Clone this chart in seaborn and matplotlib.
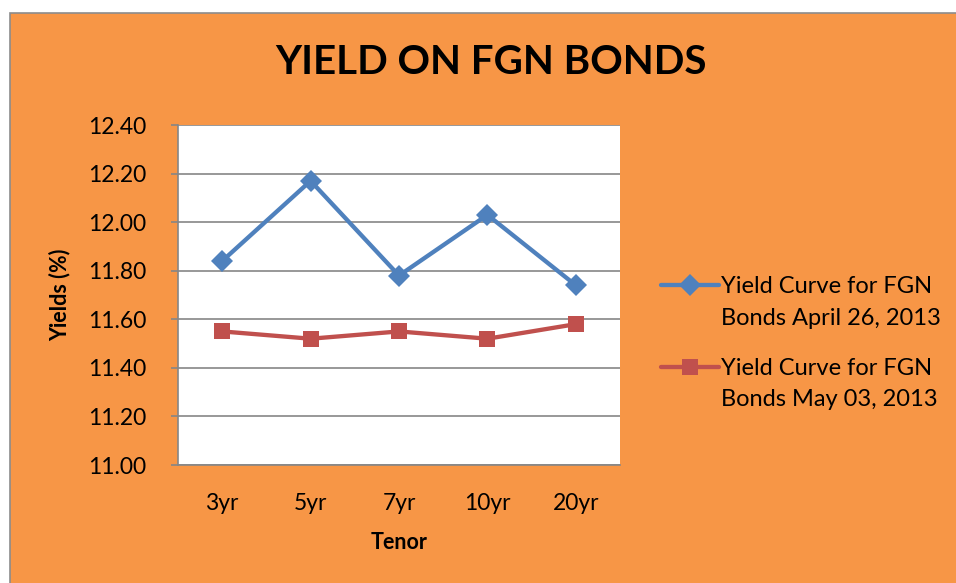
import matplotlib
matplotlib.use("Agg")
import matplotlib.pyplot as plt
import seaborn as sns
import pandas as pd
from matplotlib.patches import Rectangle
from matplotlib.lines import Line2D
from matplotlib.legend_handler import HandlerLine2D

# chart data
tenors = ["3yr", "5yr", "7yr", "10yr", "20yr"]
yield_apr26 = [11.84, 12.17, 11.78, 12.03, 11.74]
yield_may03 = [11.55, 11.52, 11.55, 11.52, 11.58]
series_names = ["Yield Curve for FGN\nBonds April 26, 2013",
                "Yield Curve for FGN\nBonds May 03, 2013"]
y_ticks = [11.00, 11.20, 11.40, 11.60, 11.80, 12.00, 12.20, 12.40]

df = pd.DataFrame({
    "Tenor": tenors * 2,
    "Yield": yield_apr26 + yield_may03,
    "Series": [series_names[0]] * len(tenors) + [series_names[1]] * len(tenors),
})

sns.set_style("white")
plt.rcParams["font.family"] = ["Lato", "DejaVu Sans"]
plt.rcParams["text.color"] = "black"
plt.rcParams["xtick.color"] = "black"
plt.rcParams["ytick.color"] = "black"
plt.rcParams["axes.labelcolor"] = "black"

orange = "#F79646"
blue = "#4F81BD"
red = "#C0504D"
grid_gray = "#868686"


class TopLineHandler(HandlerLine2D):
    """put the legend line next to the first line of a two-line label"""
    def create_artists(self, legend, orig_handle, xdescent, ydescent,
                       width, height, fontsize, trans):
        return super().create_artists(legend, orig_handle, xdescent,
                                      ydescent - 1.5 * fontsize, width, height,
                                      fontsize, trans)


fig = plt.figure(figsize=(9.56, 5.83), dpi=100, facecolor="white")
# orange chart area with grey border
fig.patches.append(Rectangle((10 / 956, -0.01), 1.0, (583 - 13) / 583 + 0.01,
                             transform=fig.transFigure, facecolor=orange,
                             edgecolor="#8c8c8c", linewidth=1.2, zorder=-10))

ax = fig.add_axes([178 / 956, 1 - 465 / 583, 442 / 956, 340 / 583])
ax.set_facecolor("white")
ax.set_zorder(1)

sns.lineplot(data=df, x="Tenor", y="Yield", hue="Series", style="Series",
             palette={series_names[0]: blue, series_names[1]: red},
             markers={series_names[0]: "D", series_names[1]: "s"},
             dashes=False, linewidth=3.1, markersize=11, markeredgewidth=0,
             ax=ax)

ax.set_xlim(-0.5, len(tenors) - 0.5)
ax.set_ylim(11.0, 12.4)
ax.set_yticks(y_ticks)
ax.set_yticklabels([f"{v:.2f}" for v in y_ticks], fontsize=16.5)
ax.tick_params(axis="x", labelsize=16.5, length=0, pad=20)
ax.tick_params(axis="y", length=5, width=1.2, color=grid_gray, pad=18, left=True)
ax.yaxis.grid(True, color=grid_gray, linewidth=1.2)
ax.set_axisbelow(True)

for side in ["top", "right"]:
    ax.spines[side].set_visible(False)
for side in ["left", "bottom"]:
    ax.spines[side].set_color(grid_gray)
    ax.spines[side].set_linewidth(1.2)

ax.set_xlabel("Tenor", fontsize=15.5, fontweight="bold", labelpad=13)
ax.set_ylabel("Yields (%)", fontsize=15.5, fontweight="bold", labelpad=12)

fig.text(491 / 956, 1 - 63 / 583, "YIELD ON FGN BONDS", fontsize=29,
         fontweight="bold", ha="center", va="center")

handles, labels = ax.get_legend_handles_labels()
leg = ax.legend(handles, labels, loc="center left", bbox_to_anchor=(1.072, 0.358),
                frameon=False, fontsize=17, handlelength=2.45,
                labelspacing=1.25, handletextpad=0.1, borderaxespad=0,
                handler_map={Line2D: TopLineHandler()})
for t in leg.get_texts():
    t.set_linespacing(1.6)

fig.savefig("out.png", dpi=100, facecolor="white")
